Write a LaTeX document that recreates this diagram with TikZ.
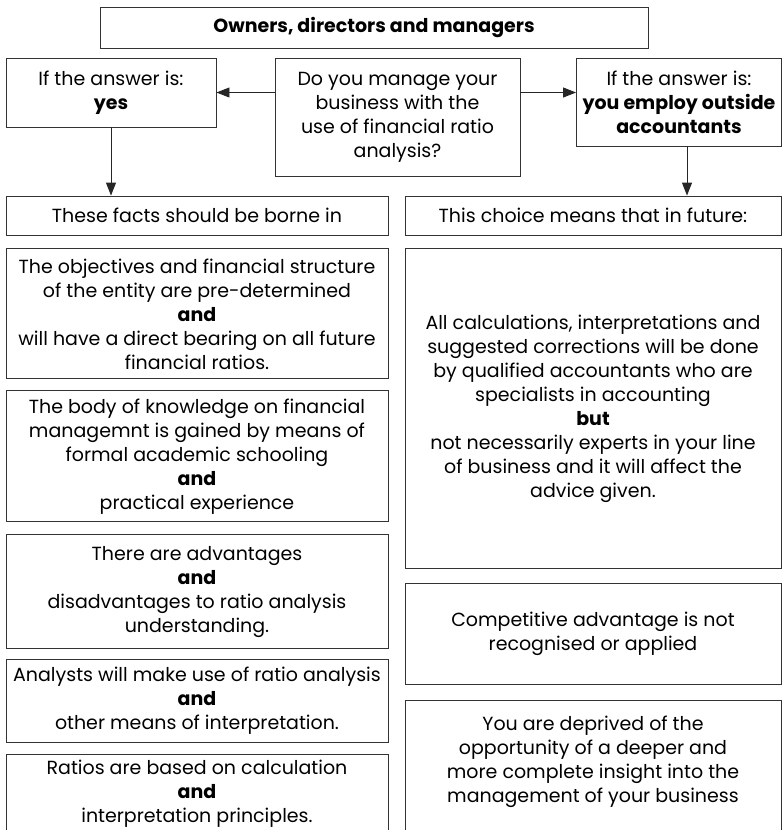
\documentclass[tikz,border=0pt]{standalone}
\usepackage{fontspec}
\setmainfont{Poppins}
\usetikzlibrary{positioning,arrows.meta}

\tikzset{
    box/.style={draw=black!80, line width=0.9pt, align=center, inner sep=2pt, font=\fontsize{19}{24}\selectfont},
    lbox/.style={box, minimum width=382pt},
    rbox/.style={box, minimum width=376pt},
    arr/.style={-{Triangle[length=13pt,width=10pt]}, draw=black!85, line width=0.9pt}
}

\begin{document}
\begin{tikzpicture}[x=1pt, y=-1pt]
    \path[use as bounding box, clip] (0,0) rectangle (782,830);
    \node (title) [box, font=\fontsize{19}{24}\selectfont\bfseries, minimum width=548pt, minimum height=41pt] at (374,27.5) {Owners, directors and managers};
    \node (yes) [box, minimum width=210pt, minimum height=69pt] at (111,92.5) {If the answer is:\\\textbf{yes}};
    \node (ask) [box, minimum width=245pt, minimum height=118pt] at (397.5,117) {Do you manage your\\business with the\\use of financial ratio\\analysis?};
    \node (outside) [box, minimum width=205pt, minimum height=88pt] at (679,102) {If the answer is:\\\textbf{you employ outside}\\\textbf{accountants}};
    \node (facts) [lbox, minimum height=39pt] at (197,215.5) {These facts should be borne in};
    \node (choice) [rbox, minimum height=39pt] at (593,215.5) {This choice means that in future:};
    \node (objectives) [lbox, minimum height=130pt, below=13pt of facts] {The objectives and financial structure\\of the entity are pre-determined\\\textbf{and}\\will have a direct bearing on all future\\financial ratios.};
    \node (knowledge) [lbox, minimum height=131pt, below=11pt of objectives] {The body of knowledge on financial\\managemnt is gained by means of\\formal academic schooling\\\textbf{and}\\practical experience};
    \node (advantages) [lbox, minimum height=114pt, below=12pt of knowledge] {There are advantages\\\textbf{and}\\disadvantages to ratio analysis\\understanding.};
    \node (analysts) [lbox, minimum height=83pt, below=10pt of advantages] {Analysts will make use of ratio analysis\\\textbf{and}\\other means of interpretation.};
    \node (ratios) [lbox, inner ysep=6pt, text depth=40pt, below=11pt of analysts] {Ratios are based on calculation\\\textbf{and}\\interpretation principles.};
    \node (future) [rbox, minimum height=320pt, below=13pt of choice] {All calculations, interpretations and\\suggested corrections will be done\\by qualified accountants who are\\specialists in accounting\\\textbf{but}\\not necessarily experts in your line\\of business and it will affect the\\advice given.};
    \node (competitive) [rbox, minimum height=101pt, below=14pt of future] {Competitive advantage is not\\recognised or applied};
    \node (deprived) [rbox, inner ysep=15pt, text depth=60pt, below=15pt of competitive] {You are deprived of the\\opportunity of a deeper and\\more complete insight into the\\management of your business};
    \draw[arr] (ask.west |- yes) -- (yes.east);
    \draw[arr] (ask.east |- yes) -- (outside.west |- yes);
    \draw[arr] (yes.south) -- (yes.south |- facts.north);
    \draw[arr] ([xshift=8pt]outside.south) -- ([xshift=8pt]outside.south |- choice.north);
\end{tikzpicture}
\end{document}
